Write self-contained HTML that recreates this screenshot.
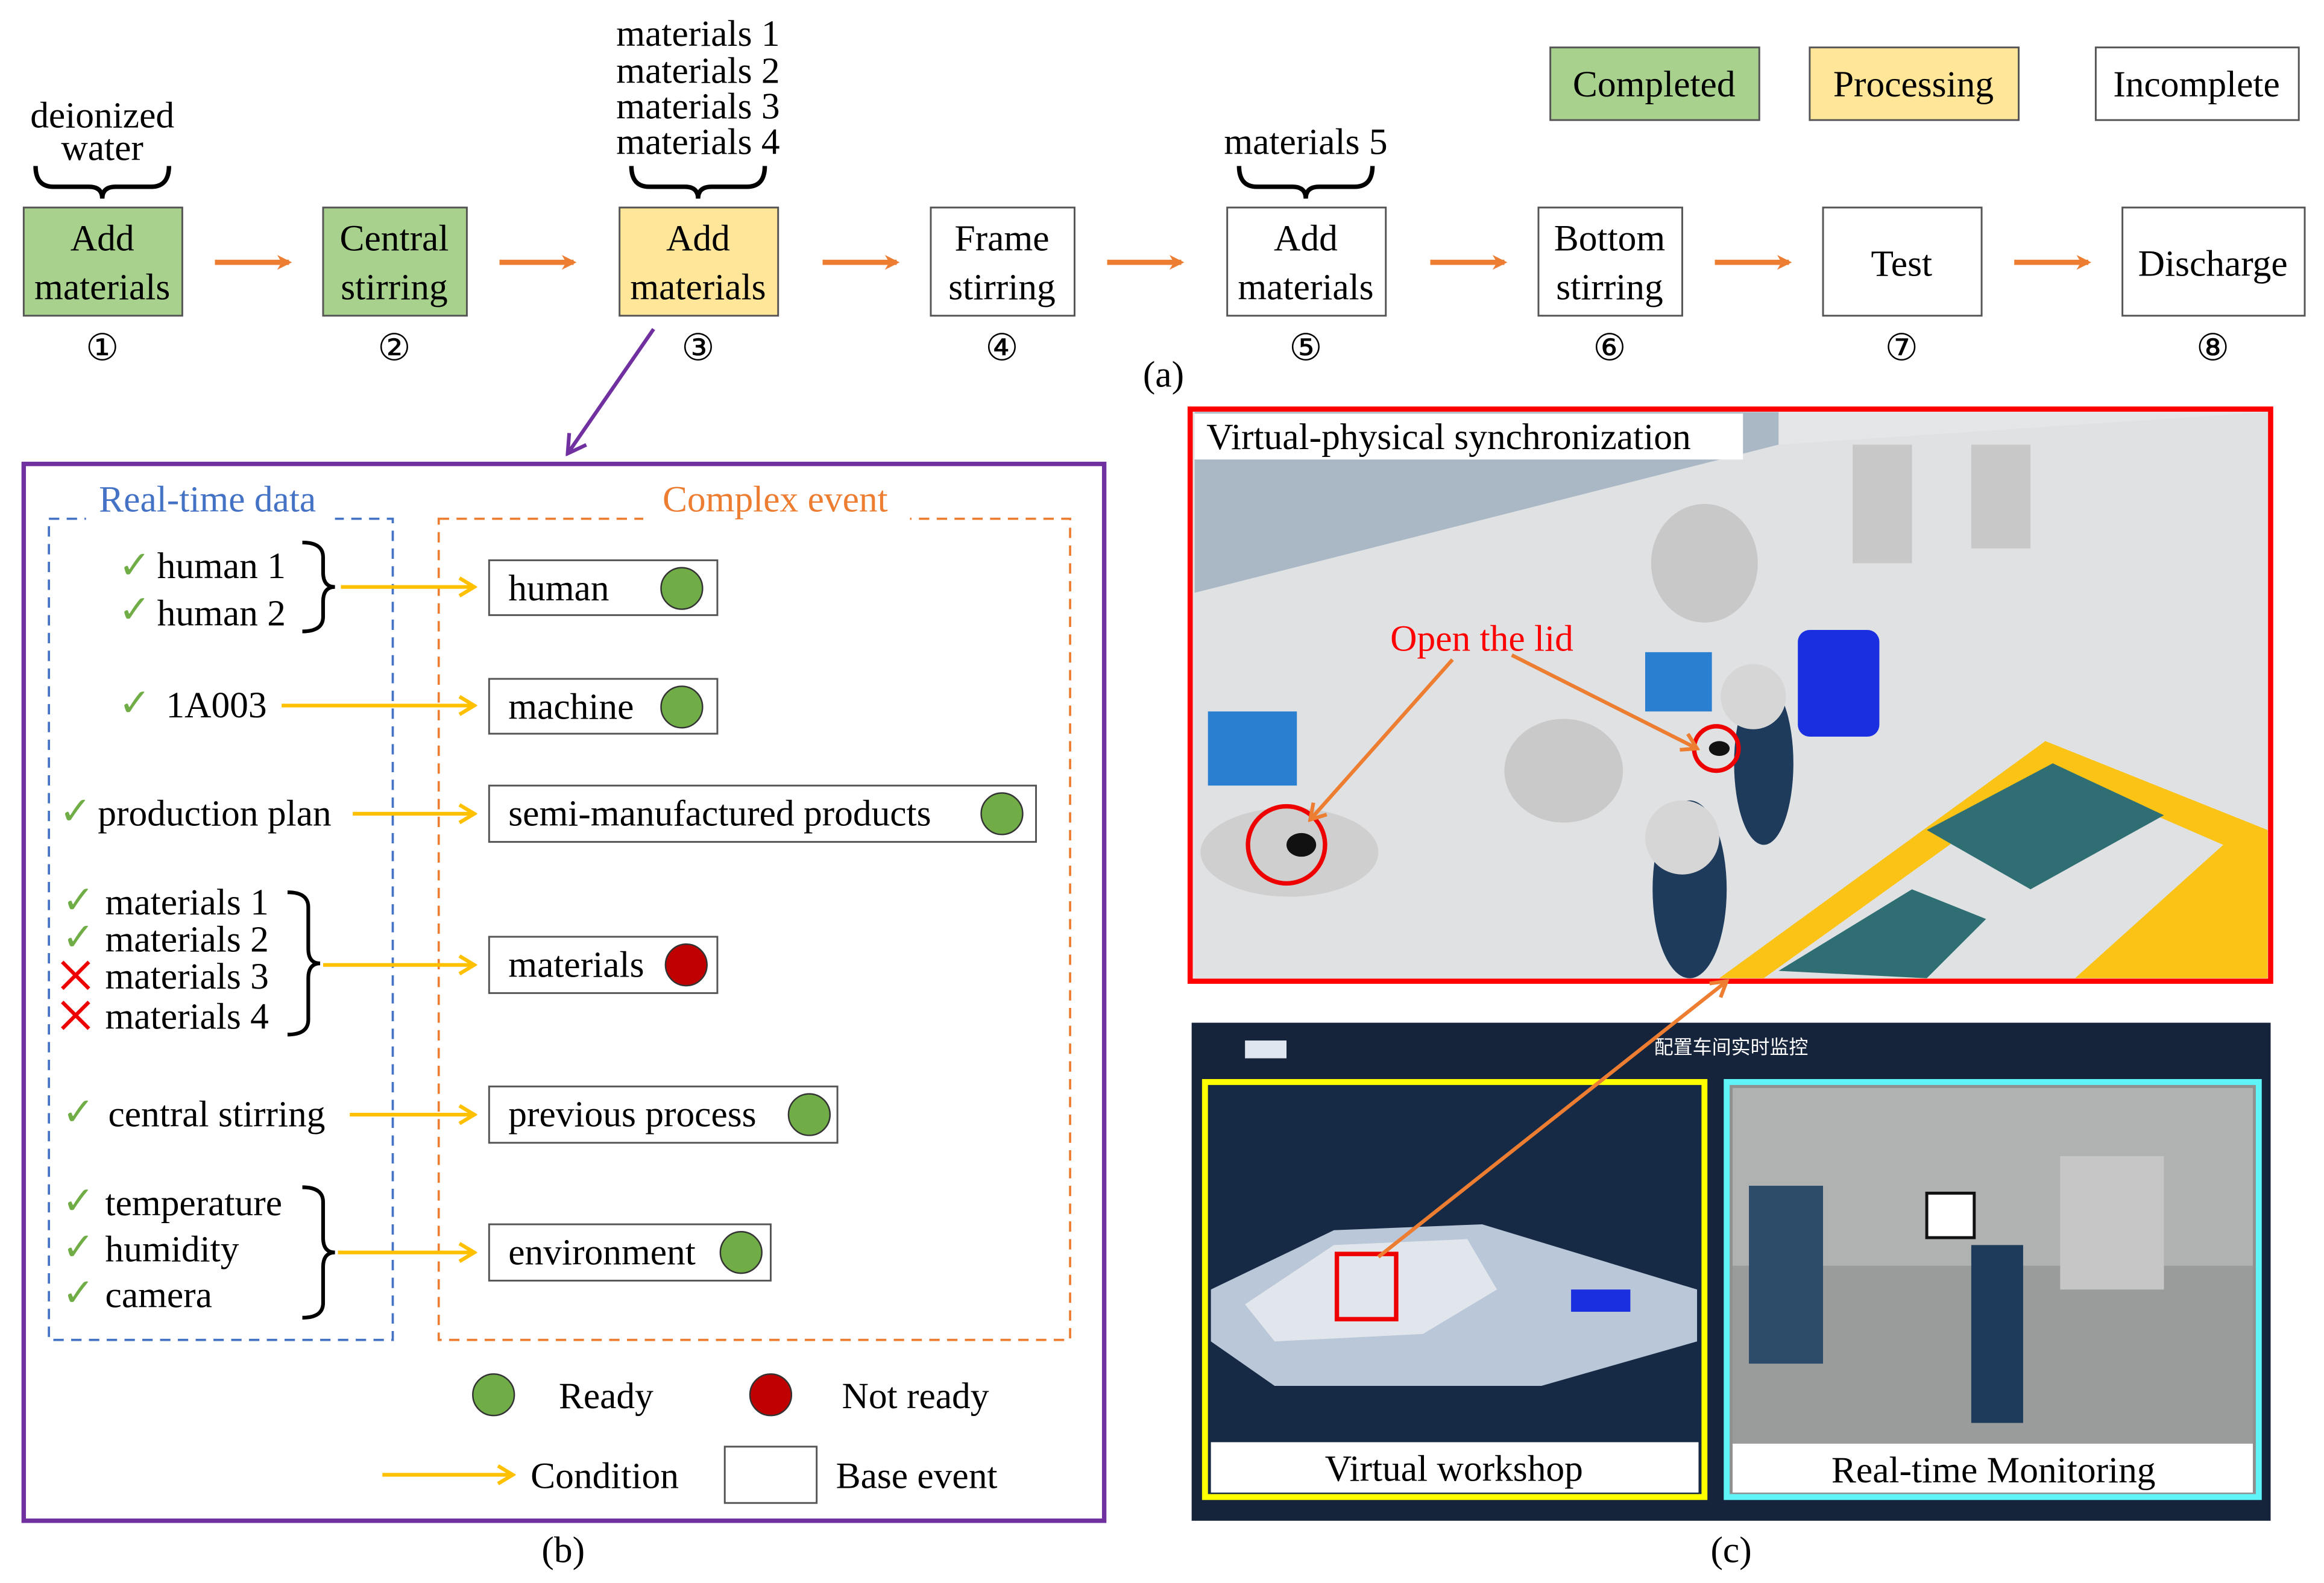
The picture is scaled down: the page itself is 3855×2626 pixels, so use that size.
<!DOCTYPE html>
<html><head><meta charset="utf-8">
<style>
html,body{margin:0;padding:0;background:#fff;}
svg{display:block;}
text{font-family:"Liberation Serif",serif;}
</style></head>
<body>
<svg width="3855" height="2626" viewBox="0 0 1568 1068" preserveAspectRatio="none" xmlns="http://www.w3.org/2000/svg">
<defs>
<marker id="oa" markerWidth="10" markerHeight="10" refX="8" refY="5" orient="auto" markerUnits="userSpaceOnUse"><path d="M0,0 L10,5 L0,10 L3,5 Z" fill="#ed7d31"/></marker>
<marker id="ya" markerWidth="14" markerHeight="14" refX="12" refY="7" orient="auto" markerUnits="userSpaceOnUse"><path d="M2,1 L12,7 L2,13" fill="none" stroke="#ffc000" stroke-width="2.5"/></marker>
<marker id="pa" markerWidth="16" markerHeight="16" refX="14" refY="8" orient="auto" markerUnits="userSpaceOnUse"><path d="M2,1 L14,8 L2,15" fill="none" stroke="#7030a0" stroke-width="2.5"/></marker>
<marker id="oa2" markerWidth="14" markerHeight="14" refX="12" refY="7" orient="auto" markerUnits="userSpaceOnUse"><path d="M2,1 L12,7 L2,13" fill="none" stroke="#ed7d31" stroke-width="2.5"/></marker>
</defs>
<rect width="1568" height="1068" fill="#fff"/>
<g font-size="25" text-anchor="middle" fill="#000">
<!-- legend -->
<rect x="1046" y="32" width="141" height="49" fill="#a9d18e" stroke="#555" stroke-width="1.2"/><text x="1116" y="65">Completed</text>
<rect x="1221" y="32" width="141" height="49" fill="#ffe699" stroke="#555" stroke-width="1.2"/><text x="1291" y="65">Processing</text>
<rect x="1414" y="32" width="137" height="49" fill="#fff" stroke="#555" stroke-width="1.2"/><text x="1482" y="65">Incomplete</text>
<!-- process boxes -->
<rect x="16" y="140" width="107" height="73" fill="#a9d18e" stroke="#555" stroke-width="1.2"/><text x="69" y="169">Add</text><text x="69" y="202">materials</text>
<rect x="218" y="140" width="97" height="73" fill="#a9d18e" stroke="#555" stroke-width="1.2"/><text x="266" y="169">Central</text><text x="266" y="202">stirring</text>
<rect x="418" y="140" width="107" height="73" fill="#ffe699" stroke="#555" stroke-width="1.2"/><text x="471" y="169">Add</text><text x="471" y="202">materials</text>
<rect x="628" y="140" width="97" height="73" fill="#fff" stroke="#555" stroke-width="1.2"/><text x="676" y="169">Frame</text><text x="676" y="202">stirring</text>
<rect x="828" y="140" width="107" height="73" fill="#fff" stroke="#555" stroke-width="1.2"/><text x="881" y="169">Add</text><text x="881" y="202">materials</text>
<rect x="1038" y="140" width="97" height="73" fill="#fff" stroke="#555" stroke-width="1.2"/><text x="1086" y="169">Bottom</text><text x="1086" y="202">stirring</text>
<rect x="1230" y="140" width="107" height="73" fill="#fff" stroke="#555" stroke-width="1.2"/><text x="1283" y="186">Test</text>
<rect x="1432" y="140" width="123" height="73" fill="#fff" stroke="#555" stroke-width="1.2"/><text x="1493" y="186">Discharge</text>
<text x="69" y="243">①</text><text x="266" y="243">②</text><text x="471" y="243">③</text><text x="676" y="243">④</text><text x="881" y="243">⑤</text><text x="1086" y="243">⑥</text><text x="1283" y="243">⑦</text><text x="1493" y="243">⑧</text>
<text x="785" y="261">(a)</text>
<text x="69" y="86">deionized</text><text x="69" y="108">water</text>
<text x="471" y="31">materials 1</text><text x="471" y="56">materials 2</text><text x="471" y="80">materials 3</text><text x="471" y="104">materials 4</text>
<text x="881" y="104">materials 5</text>
</g>
<g fill="none" stroke="#000" stroke-width="3">
<path d="M24,112 q0,14 12,14 h24 q9,0 9,8 q0,-8 9,-8 h24 q12,0 12,-14"/>
<path d="M426,112 q0,14 12,14 h24 q9,0 9,8 q0,-8 9,-8 h24 q12,0 12,-14"/>
<path d="M836,112 q0,14 12,14 h24 q9,0 9,8 q0,-8 9,-8 h24 q12,0 12,-14"/>
</g>
<g stroke="#ed7d31" stroke-width="3.5" marker-end="url(#oa)">
<line x1="145" y1="177" x2="195" y2="177"/><line x1="337" y1="177" x2="387" y2="177"/><line x1="555" y1="177" x2="605" y2="177"/><line x1="747" y1="177" x2="797" y2="177"/><line x1="965" y1="177" x2="1015" y2="177"/><line x1="1157" y1="177" x2="1207" y2="177"/><line x1="1359" y1="177" x2="1409" y2="177"/>
</g>
<line x1="441" y1="222" x2="383" y2="306" stroke="#7030a0" stroke-width="2.5" marker-end="url(#pa)"/>
<!-- panel b -->
<rect x="16" y="313" width="729" height="713" fill="none" stroke="#7030a0" stroke-width="3"/>
<rect x="33" y="350" width="232" height="554" fill="none" stroke="#4472c4" stroke-width="1.5" stroke-dasharray="7,5"/>
<rect x="296" y="350" width="426" height="554" fill="none" stroke="#ed7d31" stroke-width="1.5" stroke-dasharray="7,5"/>
<rect x="58" y="326" width="168" height="26" fill="#fff"/><rect x="434" y="326" width="180" height="26" fill="#fff"/>
<g font-size="25">
<text x="140" y="345" text-anchor="middle" fill="#4472c4">Real-time data</text>
<text x="523" y="345" text-anchor="middle" fill="#ed7d31">Complex event</text>
<g fill="#000">
<text x="106" y="390">human 1</text><text x="106" y="422">human 2</text>
<text x="112" y="484">1A003</text>
<text x="66" y="557">production plan</text>
<text x="71" y="617">materials 1</text><text x="71" y="642">materials 2</text><text x="71" y="667">materials 3</text><text x="71" y="694">materials 4</text>
<text x="73" y="760">central stirring</text>
<text x="71" y="820">temperature</text><text x="71" y="851">humidity</text><text x="71" y="882">camera</text>
</g>
<g fill="#70ad47" font-size="26" font-family="DejaVu Sans"><text x="80" y="390">✓</text><text x="80" y="420">✓</text><text x="80" y="483">✓</text><text x="40" y="556">✓</text><text x="42" y="616">✓</text><text x="42" y="641">✓</text><text x="42" y="759">✓</text><text x="42" y="819">✓</text><text x="42" y="850">✓</text><text x="42" y="881">✓</text></g>
<g stroke="#e00" stroke-width="2.5"><path d="M42,649 l18,18 M60,649 l-18,18 M42,676 l18,18 M60,676 l-18,18"/></g>
</g>
<g fill="none" stroke="#000" stroke-width="2.5">
<path d="M204,366 q14,0 14,10 v10 q0,10 8,10 q-8,0 -8,10 v10 q0,10 -14,10"/>
<path d="M194,602 q14,0 14,10 v28 q0,10 8,10 q-8,0 -8,10 v28 q0,10 -14,10"/>
<path d="M204,801 q14,0 14,10 v24 q0,10 8,10 q-8,0 -8,10 v24 q0,10 -14,10"/>
</g>
<g stroke="#ffc000" stroke-width="2.5" marker-end="url(#ya)">
<line x1="230" y1="396" x2="320" y2="396"/><line x1="190" y1="476" x2="320" y2="476"/><line x1="238" y1="549" x2="320" y2="549"/><line x1="218" y1="651" x2="320" y2="651"/><line x1="236" y1="752" x2="320" y2="752"/><line x1="228" y1="845" x2="320" y2="845"/><line x1="258" y1="995" x2="346" y2="995"/>
</g>
<g fill="#fff" stroke="#555" stroke-width="1.2">
<rect x="330" y="378" width="154" height="37"/><rect x="330" y="458" width="154" height="37"/><rect x="330" y="530" width="369" height="38"/><rect x="330" y="632" width="154" height="38"/><rect x="330" y="733" width="235" height="38"/><rect x="330" y="826" width="190" height="38"/><rect x="489" y="976" width="62" height="38"/>
</g>
<g font-size="25" fill="#000">
<text x="343" y="405">human</text><text x="343" y="485">machine</text><text x="343" y="557">semi-manufactured products</text><text x="343" y="659">materials</text><text x="343" y="760">previous process</text><text x="343" y="853">environment</text>
<text x="377" y="950">Ready</text><text x="568" y="950">Not ready</text><text x="358" y="1004">Condition</text><text x="564" y="1004">Base event</text>
<text x="380" y="1054" text-anchor="middle">(b)</text><text x="1168" y="1054" text-anchor="middle">(c)</text>
</g>
<g stroke="#333" stroke-width="1">
<circle cx="460" cy="397" r="14" fill="#70ad47"/><circle cx="460" cy="477" r="14" fill="#70ad47"/><circle cx="676" cy="549" r="14" fill="#70ad47"/><circle cx="463" cy="651" r="14" fill="#c00000"/><circle cx="546" cy="752" r="14" fill="#70ad47"/><circle cx="500" cy="845" r="14" fill="#70ad47"/><circle cx="333" cy="941" r="14" fill="#70ad47"/><circle cx="520" cy="941" r="14" fill="#c00000"/>
</g>
<!-- panel c top 3D scene -->
<rect x="803" y="276" width="729" height="386" fill="#e4e6e8"/>
<polygon points="806,278 1200,278 1200,300 806,400" fill="#a9b8c4"/>
<polygon points="806,400 1200,300 1530,278 1530,660 806,660" fill="#dfe1e3"/>
<polygon points="1160,660 1380,500 1530,560 1530,660" fill="#ffc000" opacity="0.9"/>
<polygon points="1190,660 1385,520 1500,570 1400,660" fill="#dfe1e3"/>
<polygon points="1300,560 1385,515 1460,550 1370,600" fill="#2f6f74"/>
<polygon points="1200,655 1290,600 1340,620 1300,660" fill="#2f6f74"/>
<rect x="1213" y="425" width="55" height="72" rx="8" fill="#1a2fe0"/>
<ellipse cx="1150" cy="380" rx="36" ry="40" fill="#c8c8c8"/>
<ellipse cx="1055" cy="520" rx="40" ry="35" fill="#c9c9c9"/>
<ellipse cx="870" cy="575" rx="60" ry="30" fill="#cfcfcf"/>
<rect x="815" y="480" width="60" height="50" fill="#2a7fd0"/>
<rect x="1110" y="440" width="45" height="40" fill="#2a7fd0"/>
<ellipse cx="1140" cy="600" rx="25" ry="60" fill="#1f3b5c"/><circle cx="1135" cy="565" r="25" fill="#d6d6d6"/>
<ellipse cx="1190" cy="515" rx="20" ry="55" fill="#1f3b5c"/><circle cx="1183" cy="470" r="22" fill="#d6d6d6"/>
<rect x="1250" y="300" width="40" height="80" fill="#c8c8c8"/><rect x="1330" y="300" width="40" height="70" fill="#c8c8c8"/>
<circle cx="868" cy="570" r="26" fill="none" stroke="#e00" stroke-width="3"/><circle cx="1158" cy="505" r="15" fill="none" stroke="#e00" stroke-width="3"/>
<ellipse cx="878" cy="570" rx="10" ry="8" fill="#111"/><ellipse cx="1160" cy="505" rx="7" ry="5" fill="#111"/>
<rect x="803" y="276" width="729" height="386" fill="none" stroke="#ff0000" stroke-width="3.5"/>
<rect x="806" y="279" width="370" height="31" fill="#fff"/>
<text x="814" y="303" font-size="25">Virtual-physical synchronization</text>
<text x="938" y="439" font-size="25" fill="#ff0000">Open the lid</text>
<g stroke="#ed7d31" stroke-width="2.5" marker-end="url(#oa2)"><line x1="980" y1="445" x2="884" y2="553"/><line x1="1020" y1="442" x2="1145" y2="505"/></g>
<!-- bottom dashboard -->
<rect x="804" y="690" width="728" height="336" fill="#15233b"/>
<text x="1168" y="711" font-size="13" fill="#fff" text-anchor="middle" font-family="Liberation Sans,Noto Sans CJK SC,sans-serif">配置车间实时监控</text>
<rect x="840" y="702" width="28" height="12" fill="#dfe6ef"/>
<rect x="813" y="730" width="337" height="280" fill="#172a45" stroke="#ffff00" stroke-width="4"/>
<polygon points="817,870 900,830 1000,826 1145,870 1145,905 1040,935 860,935 817,905" fill="#b9c7d8"/>
<polygon points="840,880 900,840 990,836 1010,870 960,900 860,905" fill="#e1e6ec"/>
<rect x="1060" y="870" width="40" height="15" fill="#1a2fe0"/>
<rect x="902" y="846" width="40" height="44" fill="none" stroke="#e00" stroke-width="3"/>
<rect x="817" y="973" width="329" height="34" fill="#fff"/>
<text x="981" y="999" font-size="25" text-anchor="middle">Virtual workshop</text>
<rect x="1165" y="730" width="359" height="280" fill="#8f9090" stroke="#5ff4f8" stroke-width="4"/>
<rect x="1169" y="734" width="351" height="120" fill="#b0b2b2"/>
<rect x="1169" y="854" width="351" height="120" fill="#9a9b9b"/>
<rect x="1180" y="800" width="50" height="120" fill="#2c4c6a"/>
<rect x="1330" y="840" width="35" height="120" fill="#1f3b5c"/>
<rect x="1300" y="805" width="32" height="30" fill="#fff" stroke="#111" stroke-width="2"/>
<rect x="1390" y="780" width="70" height="90" fill="#c6c6c6"/>
<rect x="1169" y="974" width="351" height="33" fill="#fff"/>
<text x="1345" y="1000" font-size="25" text-anchor="middle">Real-time Monitoring</text>
<line x1="930" y1="848" x2="1165" y2="662" stroke="#ed7d31" stroke-width="2.5" marker-end="url(#oa2)"/>
</svg>
</body></html>
